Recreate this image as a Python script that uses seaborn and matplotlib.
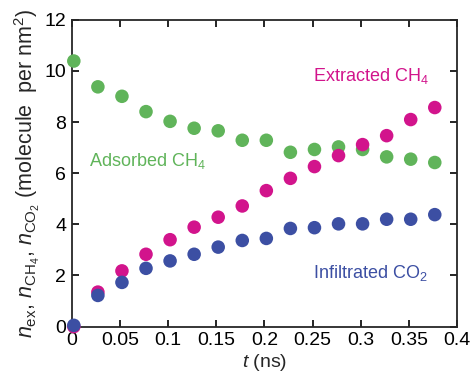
import matplotlib
matplotlib.use("Agg")
import numpy as np
import pandas as pd
import matplotlib.pyplot as plt
import seaborn as sns


# Data
t = [0.002, 0.027, 0.052, 0.077, 0.102, 0.127, 0.152, 0.177,
     0.202, 0.227, 0.252, 0.277, 0.302, 0.327, 0.352, 0.377]

adsorbed_ch4 = [10.39, 9.38, 9.01, 8.41, 8.03, 7.76, 7.66, 7.29,
                7.29, 6.82, 6.93, 7.03, 6.93, 6.64, 6.55, 6.42]
extracted_ch4 = [0.0, 1.35, 2.18, 2.83, 3.40, 3.89, 4.28, 4.72,
                 5.32, 5.80, 6.26, 6.69, 7.12, 7.47, 8.10, 8.57]
infiltrated_co2 = [0.05, 1.22, 1.73, 2.28, 2.57, 2.83, 3.11, 3.37,
                   3.45, 3.84, 3.87, 4.02, 4.02, 4.20, 4.20, 4.38]

GREEN = "#60b45a"
MAGENTA = "#d2148c"
BLUE = "#3c4fa3"


sns.set_style("ticks")
plt.rcParams["font.family"] = ["Liberation Sans", "DejaVu Sans"]
plt.rcParams["mathtext.fontset"] = "custom"
plt.rcParams["mathtext.rm"] = "Liberation Sans"
plt.rcParams["mathtext.it"] = "Liberation Sans:italic"
plt.rcParams["mathtext.bf"] = "Liberation Sans:bold"

df = pd.DataFrame({
    "t": t * 3,
    "n": adsorbed_ch4 + extracted_ch4 + infiltrated_co2,
    "series": ["ads"] * len(t) + ["ext"] * len(t) + ["inf"] * len(t),
})

fig = plt.figure(figsize=(4.73, 3.82), dpi=100)
ax = fig.add_axes([0.152, 0.145, 0.814, 0.803])

sns.scatterplot(
    data=df, x="t", y="n", hue="series",
    palette={"ads": GREEN, "ext": MAGENTA, "inf": BLUE},
    s=95, linewidth=0, legend=False, ax=ax, clip_on=False, zorder=3
)

ax.set_xlim(0, 0.4)
ax.set_ylim(0, 12)
ax.set_xticks(np.arange(0, 0.401, 0.05))
ax.set_xticklabels(["0", "0.05", "0.1", "0.15", "0.2", "0.25", "0.3", "0.35", "0.4"])
ax.set_yticks(np.arange(0, 12.1, 2))

ax.tick_params(direction="in", length=5, width=1.2, labelsize=14,
               top=True, right=True, pad=4, colors="black")
for sp in ax.spines.values():
    sp.set_linewidth(1.3)
    sp.set_visible(True)

ax.set_xlabel(r"$t$ (ns)", fontsize=14, labelpad=2)
ax.set_ylabel(r"$n_{\rm ex}$, $n_{\rm CH_4}$, $n_{\rm CO_2}$ (molecule  per nm$^2$)",
              fontsize=15.5, labelpad=2)

ax.text(0.250, 9.61, r"Extracted CH$_4$", color=MAGENTA, fontsize=13, va="baseline")
ax.text(0.018, 6.30, r"Adsorbed CH$_4$", color=GREEN, fontsize=13, va="baseline")
ax.text(0.250, 1.89, r"Infiltrated CO$_2$", color=BLUE, fontsize=13, va="baseline")

plt.savefig("out.png", dpi=100)
